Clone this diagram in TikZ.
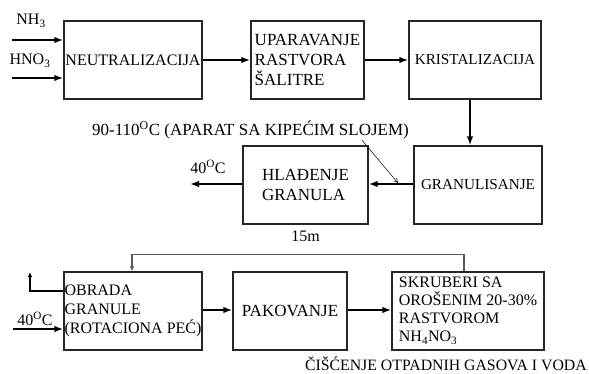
\documentclass[tikz,border=0pt]{standalone}
\usepackage{fontspec}
\setmainfont{Liberation Serif}
\usetikzlibrary{positioning, arrows.meta, calc}
\newcommand{\degC}{\textsuperscript{O}C}
\tikzset{
  box/.style={draw=black!85, line width=1.3pt, minimum height=78pt,
              inner sep=0pt, align=left, font=\fontsize{16}{19.5}\selectfont},
  bigtxt/.style={font=\fontsize{17}{20}\selectfont},
  smalltxt/.style={font=\fontsize{15.2}{19}\selectfont},
  arr/.style={-{Latex[length=9pt,width=6.5pt]}, line width=1.6pt},
  thinarr/.style={-{Straight Barb[length=4pt,width=4pt]}, line width=0.5pt},
  fback/.style={-{Latex[length=5pt,width=4.5pt]}, line width=1.5pt, draw=black!65},
  vent/.style={-{Latex[length=5pt,width=4.5pt]}, line width=1.4pt},
  lbl/.style={font=\fontsize{16}{19}\selectfont, inner sep=0pt},
}

\begin{document}
\begin{tikzpicture}[x=1pt, y=-1pt]
  \useasboundingbox (0,0) rectangle (589,374);

  % first row: acid and ammonia in, then solution up to crystals
  \node[box, minimum width=138pt] (neut)  at (133,60)   {NEUTRALIZACIJA};
  \node[box, bigtxt, minimum width=113pt] (upar) at (307.5,60)
       {UPARAVANJE\\RASTVORA\\ŠALITRE};
  \node[box, smalltxt, minimum width=132pt] (krist) at (475,60) {KRISTALIZACIJA};

  \node[lbl] (nh3)  at (31,21)  {NH\textsubscript{3}};
  \node[lbl] (hno3) at (30,61)  {HNO\textsubscript{3}};
  \coordinate (in1) at (12,40);
  \coordinate (in2) at (12,78);
  \draw[arr] (in1) -- (in1 -| neut.west);
  \draw[arr] (in2) -- (in2 -| neut.west);
  \draw[arr] (neut) -- (upar);
  \draw[arr] (upar) -- (krist);

  % second row
  \node[box, smalltxt, minimum width=128pt] (gran) at (478,185) {GRANULISANJE};
  \node[box, bigtxt, minimum width=125pt] (hlad) at (305.5,185)
       {HLAĐENJE\\GRANULA};
  \node[lbl, bigtxt] (temp) at (250.5,130)
       {90-110\degC{} (APARAT SA KIPEĆIM SLOJEM)};
  \node[lbl] (t40a) at (208,167) {40\degC};
  \node[lbl, below=6pt of hlad] (len) {15m};
  \coordinate (cool) at (190,184);
  \coordinate (hit)  at (398,183);

  \draw[arr] ([xshift=-5pt]krist.south) -- ([xshift=-5pt]krist.south |- gran.north);
  \draw[arr] (gran.west |- 0,184) -- (hlad.east |- 0,184);
  \draw[arr] (hlad.west |- cool) -- (cool);
  \draw[thinarr] ([xshift=-47pt,yshift=-1pt]temp.south east) -- (hit);

  % third row
  \node[box, minimum width=138pt, font=\fontsize{16}{19}\selectfont] (obrada) at (133,311)
       {OBRADA\\GRANULE\\(ROTACIONA PEĆ)};
  \node[box, bigtxt, minimum width=114pt] (pak) at (290,311) {PAKOVANJE};
  \node[box, minimum width=152pt, font=\fontsize{16}{18}\selectfont] (skr) at (468,311)
       {SKRUBERI SA\\OROŠENIM 20-30\%\\RASTVOROM\\NH\textsubscript{4}NO\textsubscript{3}};
  \node[lbl] (t40b) at (35,319) {40\degC};
  \node[lbl, anchor=east, font=\fontsize{15.8}{19}\selectfont] (clean) at (587,363.5)
       {ČIŠĆENJE OTPADNIH GASOVA I VODA};
  \coordinate (in3) at (13,329);
  \coordinate (out) at (30,272);

  \draw[arr] (in3) -- (in3 -| obrada.west);
  \draw[arr] (obrada.east |- 0,310) -- (pak.west |- 0,310);
  \draw[arr] (pak.east |- 0,310) -- (skr.west |- 0,310);
  \draw[vent] ([yshift=20pt]obrada.west) -| (out);
  \draw[fback] ([xshift=-4pt]skr.north) -- ++(0,-17) -| ([xshift=-1pt]obrada.north);
\end{tikzpicture}
\end{document}
